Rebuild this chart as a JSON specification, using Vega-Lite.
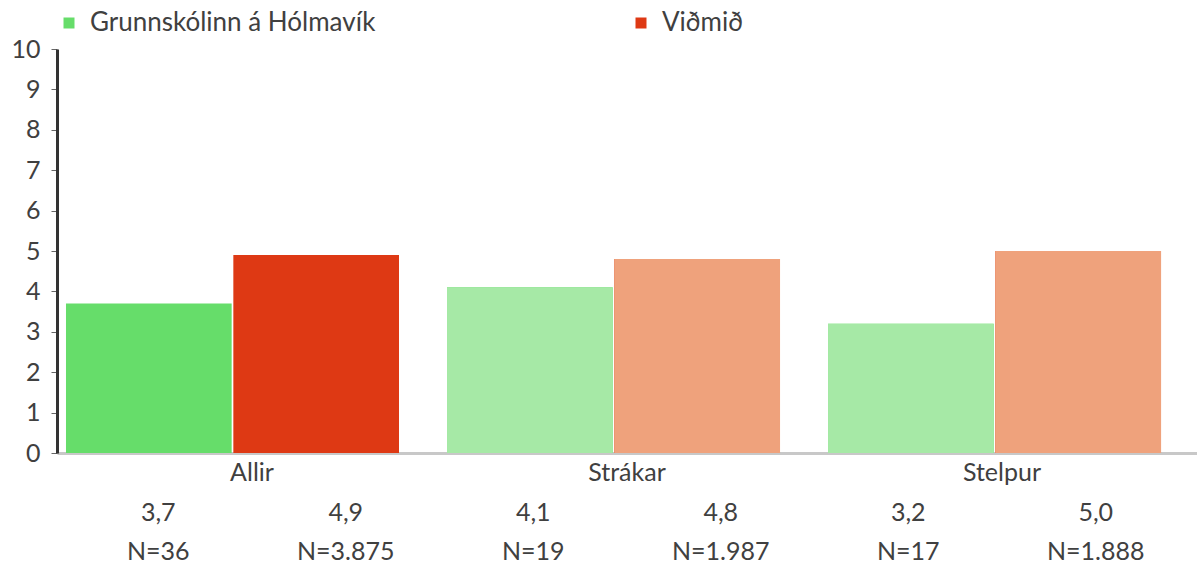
{
  "$schema": "https://vega.github.io/schema/vega-lite/v6.json",
  "width": 1140,
  "height": 404,
  "autosize": {"type": "none"},
  "padding": {"left": 57, "top": 49, "right": 0, "bottom": 112},
  "background": "white",
  "config": {"view": {"stroke": null}, "font": "Lato", "axis": {"grid": false}},
  "data": {"values": [
    {"hopur": "Allir", "flokkur": "Grunnskólinn á Hólmavík", "medaltal": 3.7, "n": 36},
    {"hopur": "Allir", "flokkur": "Viðmið", "medaltal": 4.9, "n": 3875},
    {"hopur": "Strákar", "flokkur": "Grunnskólinn á Hólmavík", "medaltal": 4.1, "n": 19},
    {"hopur": "Strákar", "flokkur": "Viðmið", "medaltal": 4.8, "n": 1987},
    {"hopur": "Stelpur", "flokkur": "Grunnskólinn á Hólmavík", "medaltal": 3.2, "n": 17},
    {"hopur": "Stelpur", "flokkur": "Viðmið", "medaltal": 5.0, "n": 1888}
  ]},
  "resolve": {"scale": {"x": "independent", "xOffset": "independent"}},
  "layer": [
    {
      "layer": [
        {
          "mark": {"type": "bar"},
          "encoding": {
            "x": {"field": "hopur", "type": "nominal", "scale": {"type": "band", "domain": ["Allir", "Strákar", "Stelpur"], "paddingInner": 0.126, "paddingOuter": 0.059, "align": 0.2}, "axis": null},
            "xOffset": {"field": "flokkur", "type": "nominal", "scale": {"domain": ["Grunnskólinn á Hólmavík", "Viðmið"], "paddingInner": 0.01, "paddingOuter": 0}},
            "y": {"field": "medaltal", "type": "quantitative", "scale": {"domain": [0, 10], "nice": false},
              "axis": {"title": null, "values": [0,1,2,3,4,5,6,7,8,9,10], "labelFontSize": 25, "labelColor": "#404040", "labelPadding": 11, "domainColor": "#333333", "domainWidth": 3, "tickColor": "#666666", "tickSize": 6, "tickWidth": 1}},
            "color": {"field": "flokkur", "type": "nominal",
              "scale": {"domain": ["Grunnskólinn á Hólmavík", "Viðmið"], "range": ["#66dd6a", "#de3914"]},
              "legend": {"title": null, "orient": "none", "legendX": -1, "legendY": -39, "direction": "horizontal", "symbolType": "square", "symbolSize": 121, "symbolStrokeWidth": 0, "labelFontSize": 26, "labelColor": "#404040", "labelOffset": 8, "columnPadding": 252, "labelLimit": 400}}
          }
        },
        {
          "transform": [{"filter": "datum.hopur !== 'Allir'"}],
          "mark": {"type": "bar"},
          "encoding": {
            "x": {"field": "hopur", "type": "nominal", "scale": {"type": "band", "domain": ["Allir", "Strákar", "Stelpur"], "paddingInner": 0.126, "paddingOuter": 0.059, "align": 0.2}, "axis": null},
            "xOffset": {"field": "flokkur", "type": "nominal", "scale": {"domain": ["Grunnskólinn á Hólmavík", "Viðmið"], "paddingInner": 0.01, "paddingOuter": 0}},
            "y": {"field": "medaltal", "type": "quantitative", "scale": {"domain": [0, 10], "nice": false},
              "axis": {"title": null, "values": [0,1,2,3,4,5,6,7,8,9,10], "labelFontSize": 25, "labelColor": "#404040", "labelPadding": 11, "domainColor": "#333333", "domainWidth": 3, "tickColor": "#666666", "tickSize": 6, "tickWidth": 1}},
            "color": {"condition": {"test": "datum.flokkur === 'Viðmið'", "value": "#efa27c"}, "value": "#a6e9a6"}
          }
        }
      ]
    },
    {
      "layer": [
        {
          "transform": [{"calculate": "replace(format(datum.medaltal, '.1f'), '.', ',')", "as": "medaltal_texti"}],
          "mark": {"type": "text", "fontSize": 25, "color": "#404040", "baseline": "middle", "dy": 60},
          "encoding": {
            "x": {"field": "hopur", "type": "nominal", "scale": {"type": "band", "domain": ["Allir", "Strákar", "Stelpur"], "paddingInner": 0, "paddingOuter": 0.02},
              "axis": {"orient": "bottom", "title": null, "ticks": false, "labelFontSize": 25, "labelColor": "#404040", "labelPadding": 7, "domainColor": "#c8c8c8", "domainWidth": 3, "labelAngle": 0}},
            "xOffset": {"field": "flokkur", "type": "nominal", "scale": {"type": "band", "domain": ["Grunnskólinn á Hólmavík", "Viðmið"], "paddingInner": 0, "paddingOuter": 0}},
            "y": {"datum": 0, "type": "quantitative"},
            "text": {"field": "medaltal_texti"}
          }
        },
        {
          "transform": [{"calculate": "'N=' + replace(format(datum.n, ','), ',', '.')", "as": "n_texti"}],
          "mark": {"type": "text", "fontSize": 25, "color": "#404040", "baseline": "middle", "dy": 99},
          "encoding": {
            "x": {"field": "hopur", "type": "nominal", "scale": {"type": "band", "domain": ["Allir", "Strákar", "Stelpur"], "paddingInner": 0, "paddingOuter": 0.02},
              "axis": {"orient": "bottom", "title": null, "ticks": false, "labelFontSize": 25, "labelColor": "#404040", "labelPadding": 7, "domainColor": "#c8c8c8", "domainWidth": 3, "labelAngle": 0}},
            "xOffset": {"field": "flokkur", "type": "nominal", "scale": {"type": "band", "domain": ["Grunnskólinn á Hólmavík", "Viðmið"], "paddingInner": 0, "paddingOuter": 0}},
            "y": {"datum": 0, "type": "quantitative"},
            "text": {"field": "n_texti"}
          }
        }
      ]
    }
  ]
}
